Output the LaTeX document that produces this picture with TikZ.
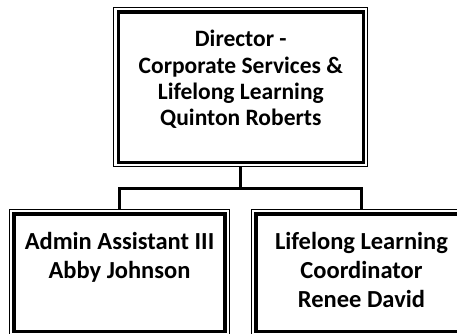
\documentclass[tikz,border=0pt]{standalone}
\usepackage{fontspec}
\setmainfont{Carlito}
\usetikzlibrary{fit}
\begin{document}
\begin{tikzpicture}[x=1pt, y=1pt,
        post/.style={draw, line width=3.3pt, outer sep=0pt, inner sep=0pt, align=flush center,
            text width=211pt, text height=35.5pt, text depth=82pt,
            font=\fontsize{24.5}{29}\selectfont\bfseries},
        rim/.style={draw, line width=1pt, inner sep=4.5pt, fit=#1},
        link/.style={line width=3pt}]%% start picture
    \useasboundingbox (0, 0) rectangle (457, 334);


        \node[post, text width=245pt, text height=35pt, text depth=115.3pt,
            font=\fontsize{23.5}{26.3}\selectfont\bfseries] (dir) at (240.8, 246.85)
            {Director -\\ Corporate Services \&\\ Lifelong Learning\\ Quinton Roberts};
            \node[rim=(dir)] (dirf) {};


        \node[post] (adm) at (119.5, 61.25) {Admin Assistant III\\ Abby Johnson};
            \node[rim=(adm)] (admf) {};

        \node[post] (lll) at (361.5, 61.25) {Lifelong Learning\\ Coordinator\\ Renee David};
            \node[rim=(lll)] (lllf) {};


        \draw[link] (dirf.south) to ++(0, -21) coordinate (hub);
            \draw[link] (admf.north) |- (hub) -| (lllf.north);

\end{tikzpicture}
\end{document}
